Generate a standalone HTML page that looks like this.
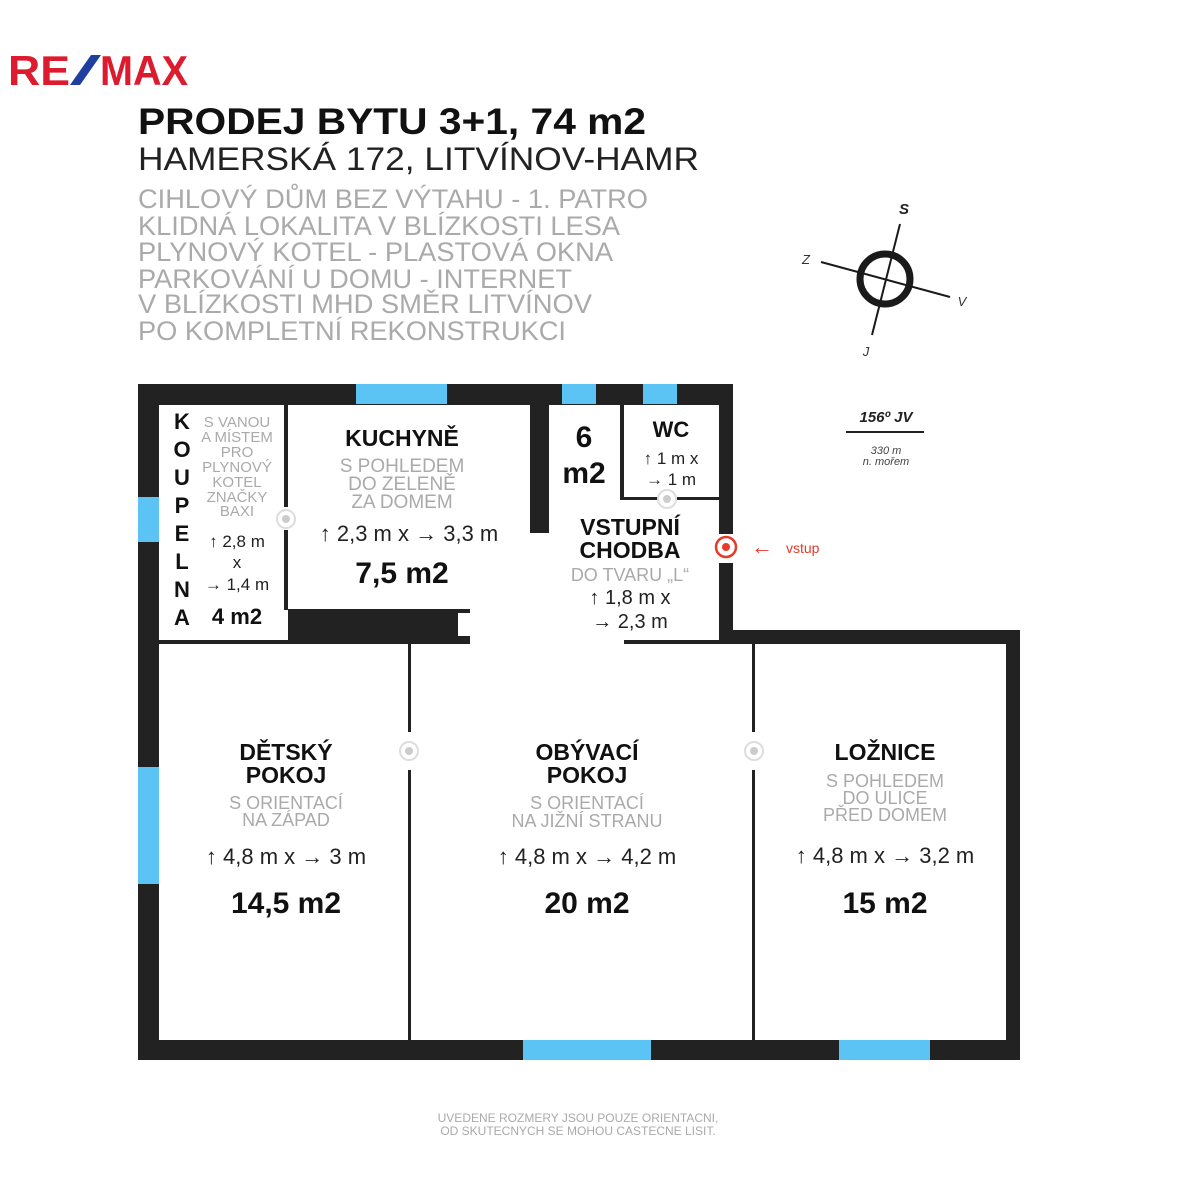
<!DOCTYPE html>
<html><head><meta charset="utf-8"><style>
html,body{margin:0;padding:0;background:#fff;}
svg{display:block;}
text{font-family:"Liberation Sans",Arial,sans-serif;}
.g{fill:#aaaaaa;}
.b{font-weight:bold;fill:#111;}
.d{fill:#222;}
</style></head><body>
<svg width="1179" height="1200" viewBox="0 0 1179 1200" xmlns="http://www.w3.org/2000/svg">
<!-- logo -->
<text x="8" y="85" font-size="42" font-weight="bold" fill="#dc1c2e" textLength="62" lengthAdjust="spacingAndGlyphs">RE</text>
<polygon points="70,85 80,85 101,55 91,55" fill="#1f3fa0"/>
<text x="100" y="85" font-size="42" font-weight="bold" fill="#dc1c2e" textLength="88" lengthAdjust="spacingAndGlyphs">MAX</text>

<!-- header -->
<text x="138" y="134" font-size="37" class="b" textLength="508" lengthAdjust="spacingAndGlyphs">PRODEJ BYTU 3+1, 74 m2</text>
<text x="138" y="170" font-size="32" class="d" textLength="561" lengthAdjust="spacingAndGlyphs">HAMERSKÁ 172, LITVÍNOV-HAMR</text>
<g font-size="27" class="g">
<text x="138" y="208" textLength="510" lengthAdjust="spacingAndGlyphs">CIHLOVÝ DŮM BEZ VÝTAHU - 1. PATRO</text>
<text x="138" y="235" textLength="482" lengthAdjust="spacingAndGlyphs">KLIDNÁ LOKALITA V BLÍZKOSTI LESA</text>
<text x="138" y="261" textLength="475" lengthAdjust="spacingAndGlyphs">PLYNOVÝ KOTEL - PLASTOVÁ OKNA</text>
<text x="138" y="288" textLength="434" lengthAdjust="spacingAndGlyphs">PARKOVÁNÍ U DOMU - INTERNET</text>
<text x="138" y="313" textLength="454" lengthAdjust="spacingAndGlyphs">V BLÍZKOSTI MHD SMĚR LITVÍNOV</text>
<text x="138" y="340" textLength="428" lengthAdjust="spacingAndGlyphs">PO KOMPLETNÍ REKONSTRUKCI</text>
</g>

<!-- compass -->
<circle cx="885" cy="279" r="25" fill="none" stroke="#1a1a1a" stroke-width="7"/>
<line x1="900" y1="224" x2="872" y2="335" stroke="#1a1a1a" stroke-width="2"/>
<line x1="821" y1="262" x2="950" y2="297" stroke="#1a1a1a" stroke-width="2"/>
<text x="904" y="214" font-size="15" font-weight="bold" font-style="italic" text-anchor="middle" fill="#222">S</text>
<text x="806" y="264" font-size="13" font-style="italic" text-anchor="middle" fill="#333">Z</text>
<text x="962" y="306" font-size="13" font-style="italic" text-anchor="middle" fill="#333">V</text>
<text x="866" y="356" font-size="13" font-style="italic" text-anchor="middle" fill="#333">J</text>
<text x="886" y="422" font-size="15" font-weight="bold" font-style="italic" text-anchor="middle" fill="#222">156º JV</text>
<line x1="846" y1="432" x2="924" y2="432" stroke="#222" stroke-width="2"/>
<text x="886" y="454" font-size="11" font-style="italic" text-anchor="middle" fill="#444">330 m</text>
<text x="886" y="465" font-size="11" font-style="italic" text-anchor="middle" fill="#444">n. mořem</text>

<!-- walls -->
<g fill="#222">
<rect x="138" y="384" width="595" height="21"/>
<rect x="138" y="384" width="21" height="676"/>
<rect x="138" y="1040" width="882" height="20"/>
<rect x="1006" y="630" width="14" height="430"/>
<rect x="719" y="384" width="14" height="150"/>
<rect x="719" y="563" width="14" height="81"/>
<rect x="719" y="630" width="301" height="14"/>
<rect x="530" y="404" width="19" height="129"/>
<rect x="284" y="404" width="4" height="103"/>
<rect x="284" y="530" width="4" height="80"/>
<rect x="288" y="609" width="170" height="31"/>
<rect x="458" y="609" width="12" height="4"/>
<rect x="458" y="636" width="12" height="4"/>
<rect x="159" y="640" width="311" height="4"/>
<rect x="624" y="640" width="95" height="4"/>
<rect x="620" y="404" width="4" height="96"/>
<rect x="620" y="497" width="38" height="3"/>
<rect x="677" y="497" width="42" height="3"/>
<rect x="408" y="644" width="3" height="88"/>
<rect x="408" y="770" width="3" height="270"/>
<rect x="752" y="644" width="3" height="88"/>
<rect x="752" y="770" width="3" height="270"/>
</g>
<g fill="#5bc4f5">
<rect x="356" y="384" width="91" height="20"/>
<rect x="562" y="384" width="34" height="20"/>
<rect x="643" y="384" width="34" height="20"/>
<rect x="138" y="497" width="21" height="45"/>
<rect x="138" y="767" width="21" height="117"/>
<rect x="523" y="1040" width="128" height="20"/>
<rect x="839" y="1040" width="91" height="20"/>
</g>
<!-- door circles -->
<g fill="#fff" stroke="#ddd" stroke-width="2">
<circle cx="286" cy="519" r="9"/><circle cx="667" cy="499" r="9"/>
<circle cx="409" cy="751" r="9"/><circle cx="754" cy="751" r="9"/>
</g>
<g fill="#ccc"><circle cx="286" cy="519" r="4"/><circle cx="667" cy="499" r="4"/><circle cx="409" cy="751" r="4"/><circle cx="754" cy="751" r="4"/></g>
<circle cx="726" cy="547" r="10" fill="#fff" stroke="#e63a2a" stroke-width="2.5"/>
<circle cx="726" cy="547" r="4" fill="#e63a2a"/>
<text x="762" y="554" font-size="22" fill="#e63a2a" text-anchor="middle">←</text>
<text x="786" y="553" font-size="14" fill="#e63a2a">vstup</text>

<!-- koupelna -->
<g font-size="22" class="b" text-anchor="middle">
<text x="182" y="429">K</text><text x="182" y="457">O</text><text x="182" y="485">U</text><text x="182" y="513">P</text>
<text x="182" y="541">E</text><text x="182" y="569">L</text><text x="182" y="597">N</text><text x="182" y="625">A</text>
<text x="237" y="624">4 m2</text>
</g>
<g font-size="15" class="g" text-anchor="middle">
<text x="237" y="427">S VANOU</text><text x="237" y="442">A MÍSTEM</text><text x="237" y="457">PRO</text>
<text x="237" y="472">PLYNOVÝ</text><text x="237" y="487">KOTEL</text><text x="237" y="502">ZNAČKY</text><text x="237" y="516">BAXI</text>
</g>
<g font-size="17" fill="#222" text-anchor="middle">
<text x="237" y="547">↑ 2,8 m</text><text x="237" y="568">x</text><text x="237" y="590">→ 1,4 m</text>
<text x="671" y="464">↑ 1 m x</text><text x="671" y="485">→ 1 m</text>
</g>
<!-- kuchyne -->
<text x="402" y="446" font-size="23" class="b" text-anchor="middle">KUCHYNĚ</text>
<g font-size="19" class="g" text-anchor="middle">
<text x="402" y="472">S POHLEDEM</text><text x="402" y="490">DO ZELENĚ</text><text x="402" y="508">ZA DOMEM</text>
</g>
<text x="409" y="541" font-size="22" fill="#222" text-anchor="middle">↑ 2,3 m x → 3,3 m</text>
<text x="402" y="583" font-size="30" class="b" text-anchor="middle">7,5 m2</text>
<text x="584" y="447" font-size="30" class="b" text-anchor="middle">6</text>
<text x="584" y="483" font-size="30" class="b" text-anchor="middle">m2</text>
<text x="671" y="437" font-size="22" class="b" text-anchor="middle">WC</text>
<!-- chodba -->
<text x="630" y="535" font-size="23" class="b" text-anchor="middle">VSTUPNÍ</text>
<text x="630" y="558" font-size="23" class="b" text-anchor="middle">CHODBA</text>
<text x="630" y="581" font-size="18" class="g" text-anchor="middle">DO TVARU „L“</text>
<text x="630" y="604" font-size="20" fill="#222" text-anchor="middle">↑ 1,8 m x</text>
<text x="630" y="628" font-size="20" fill="#222" text-anchor="middle">→ 2,3 m</text>

<!-- bottom rooms -->
<g font-size="23" class="b" text-anchor="middle">
<text x="286" y="760">DĚTSKÝ</text><text x="286" y="783">POKOJ</text>
<text x="587" y="760">OBÝVACÍ</text><text x="587" y="783">POKOJ</text>
<text x="885" y="760">LOŽNICE</text>
</g>
<g font-size="18" class="g" text-anchor="middle">
<text x="286" y="809">S ORIENTACÍ</text><text x="286" y="826">NA ZÁPAD</text>
<text x="587" y="809">S ORIENTACÍ</text><text x="587" y="827">NA JIŽNÍ STRANU</text>
<text x="885" y="787">S POHLEDEM</text><text x="885" y="804">DO ULICE</text><text x="885" y="821">PŘED DOMEM</text>
</g>
<g font-size="22" fill="#222" text-anchor="middle">
<text x="286" y="864">↑ 4,8 m x → 3 m</text>
<text x="587" y="864">↑ 4,8 m x → 4,2 m</text>
<text x="885" y="863">↑ 4,8 m x → 3,2 m</text>
</g>
<g font-size="30" class="b" text-anchor="middle">
<text x="286" y="913">14,5 m2</text><text x="587" y="913">20 m2</text><text x="885" y="913">15 m2</text>
</g>

<text x="578" y="1122" font-size="12" class="g" text-anchor="middle">UVEDENE ROZMERY JSOU POUZE ORIENTACNI,</text>
<text x="578" y="1135" font-size="12" class="g" text-anchor="middle">OD SKUTECNYCH SE MOHOU CASTECNE LISIT.</text>
</svg>
</body></html>
